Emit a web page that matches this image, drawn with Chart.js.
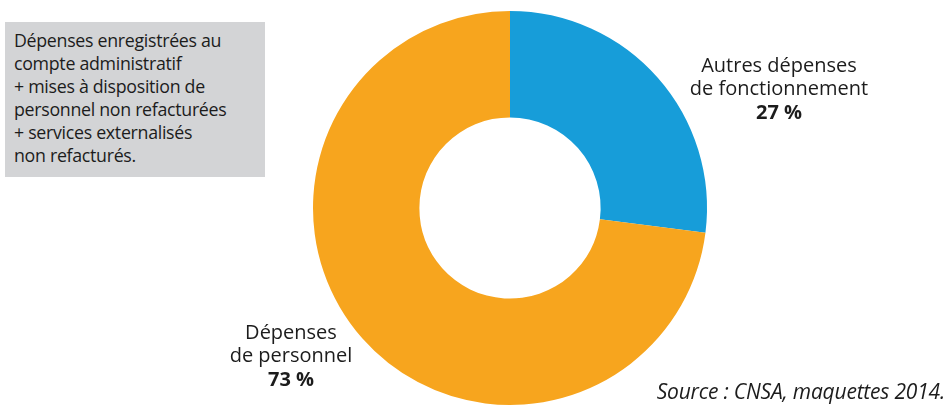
<!DOCTYPE html>
<html>
<head>
<meta charset="utf-8">
<script src="https://cdn.jsdelivr.net/npm/chart.js"></script>
<style>
  html, body { margin: 0; padding: 0; background: #fff; }
  #wrap { position: relative; width: 949px; height: 407px; overflow: hidden; }
  #myChart { position: absolute; left: 0; top: 0; }
  .note {
    position: absolute; left: 5px; top: 22px; width: 260px; height: 155px;
    background: #d3d4d6; box-sizing: border-box; padding: 7px 0 0 9px;
    font-family: "Open Sans", sans-serif; font-size: 17.8px; line-height: 23px;
    color: #1c1c1c; letter-spacing: -0.3px; white-space: nowrap;
  }
  .source {
    position: absolute; right: 4px; top: 378px;
    font-family: "Open Sans", sans-serif; font-style: italic; font-size: 21px;
    line-height: 26px; color: #1c1c1c; letter-spacing: -0.2px;
  }
</style>
</head>
<body>
<div id="wrap">
  <canvas id="myChart" width="949" height="407"></canvas>
  <div class="note">Dépenses enregistrées au<br>compte administratif<br>+ mises à disposition de<br>personnel non refacturées<br>+ services externalisés<br>non refacturés.</div>
  <div class="source">Source : CNSA, maquettes 2014.</div>
</div>
<script>
const labels = ['Autres dépenses de fonctionnement', 'Dépenses de personnel'];
const labelLines = [['Autres dépenses', 'de fonctionnement'], ['Dépenses', 'de personnel']];
const values = [27, 73];
const colors = ['#179dd9', '#f7a51e'];

// slice captions, placed beside the ring
const captionPos = [{x: 779, y: 66}, {x: 291, y: 333}];

const captions = {
  id: 'captions',
  afterDraw(chart) {
    const ctx = chart.ctx;
    ctx.save();
    ctx.fillStyle = '#1c1c1c';
    ctx.textAlign = 'center';
    ctx.textBaseline = 'middle';
    labelLines.forEach((lines, i) => {
      const p = captionPos[i];
      ctx.font = '20px "Open Sans", sans-serif';
      lines.forEach((t, k) => ctx.fillText(t, p.x, p.y + k * 23.5));
      ctx.font = 'bold 20px "Open Sans", sans-serif';
      ctx.fillText(values[i] + ' %', p.x, p.y + lines.length * 23.5);
    });
    ctx.restore();
  }
};

const canvas = document.getElementById('myChart');
new Chart(canvas, {
  type: 'doughnut',
  data: {
    labels: labels,
    datasets: [{
      data: values,
      backgroundColor: colors,
      borderWidth: 0
    }]
  },
  options: {
    responsive: false,
    animation: false,
    cutout: '46%',
    layout: { padding: { left: 313, right: 242, top: 11, bottom: 2 } },
    plugins: {
      legend: { display: false },
      tooltip: { enabled: false }
    }
  },
  plugins: [captions]
});
</script>
</body>
</html>
